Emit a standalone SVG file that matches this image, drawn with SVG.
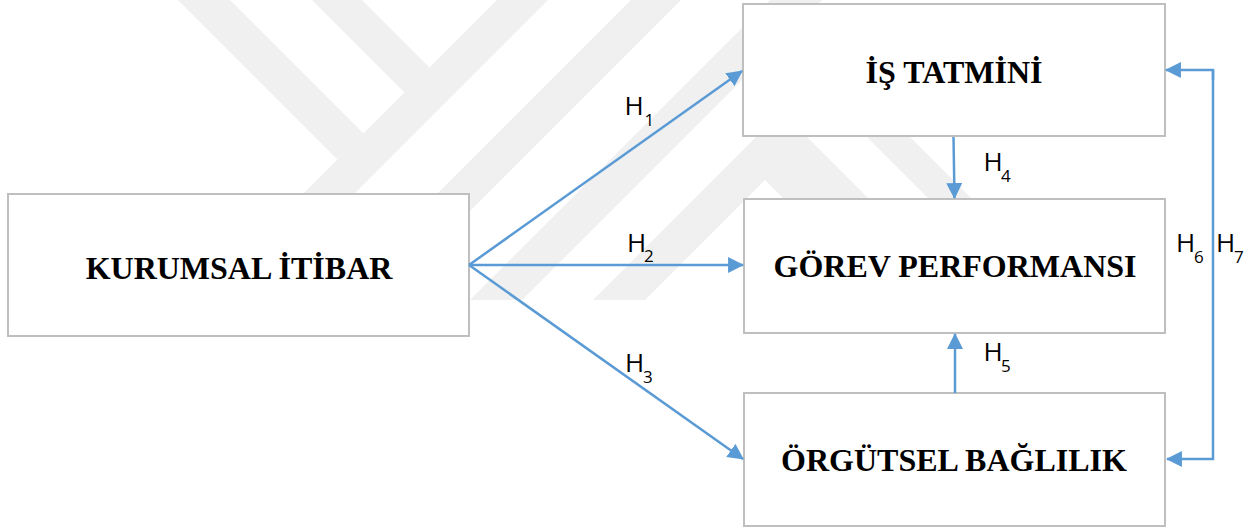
<svg xmlns="http://www.w3.org/2000/svg" width="1259" height="529" viewBox="0 0 1259 529">
  <style>
    .box { fill: #ffffff; stroke: #bfbfbf; stroke-width: 2; }
    .title { font-family: "Liberation Serif", "Times New Roman", serif; font-weight: bold; font-size: 32px; fill: #000000; text-anchor: middle; }
    .lbl { font-family: "Open Sans", "Noto Sans", sans-serif; font-size: 26px; fill: #000000; }
    .sub { font-family: "Open Sans", "Noto Sans", sans-serif; font-size: 17px; fill: #000000; }
    .conn { fill: none; stroke: #5b9bd5; stroke-width: 2.5; }
    .wm { fill: #f0f0f0; stroke: none; }
  </style>
  <defs>
    <marker id="arrow" markerUnits="userSpaceOnUse" markerWidth="16" markerHeight="16" viewBox="0 0 15 15" refX="14" refY="7.5" orient="auto">
      <path d="M0,0 L15,7.5 L0,15 Z" fill="#5b9bd5"/>
    </marker>
  </defs>
  <rect width="1259" height="529" fill="#ffffff"/>
  <g id="watermark">
    <polygon class="wm" points="178,0 230,0 363.5,133.5 337.5,159.5"/>
    <polygon class="wm" points="312,0 362,0 429.5,67.5 404.5,92.5"/>
    <polygon class="wm" points="497,0 548,0 248,300 197,300"/>
    <polygon class="wm" points="631,0 681,0 381,300 331,300"/>
    <polygon class="wm" points="770,0 822,0 522,300 470,300"/>
    <polygon class="wm" points="593,300 757,136 806,136 869,199 784,199 765,180 645,300"/>
    <polygon class="wm" points="866,136 909,136 972,199 929,199"/>
  </g>
  <g id="node-kurumsal">
    <rect class="box" x="8" y="194" width="461" height="142"/>
    <text class="title" x="239" y="278.5">KURUMSAL İTİBAR</text>
  </g>
  <g id="node-is-tatmini">
    <rect class="box" x="743" y="4" width="422" height="132"/>
    <text class="title" x="954" y="83">İŞ TATMİNİ</text>
  </g>
  <g id="node-gorev">
    <rect class="box" x="744" y="199" width="421" height="134"/>
    <text class="title" x="955" y="277">GÖREV PERFORMANSI</text>
  </g>
  <g id="node-orgutsel">
    <rect class="box" x="744" y="393" width="421" height="133"/>
    <text class="title" x="954" y="471">ÖRGÜTSEL BAĞLILIK</text>
  </g>
  <g id="connectors">
    <line class="conn" x1="469" y1="265" x2="742" y2="71" marker-end="url(#arrow)"/>
    <line class="conn" x1="469" y1="265" x2="743" y2="265" marker-end="url(#arrow)"/>
    <line class="conn" x1="469" y1="265" x2="743" y2="459" marker-end="url(#arrow)"/>
    <line class="conn" x1="953.5" y1="137" x2="954.5" y2="198" marker-end="url(#arrow)"/>
    <line class="conn" x1="955" y1="393" x2="955" y2="334" marker-end="url(#arrow)"/>
    <polyline class="conn" points="1213,70 1213,459 1167,459" marker-end="url(#arrow)"/>
    <polyline class="conn" points="1213,80 1213,70 1166,70" marker-end="url(#arrow)"/>
  </g>
  <g id="labels">
    <text class="lbl" x="624.5" y="115">H</text><text class="sub" x="644.5" y="126">1</text>
    <text class="lbl" x="627" y="252">H</text><text class="sub" x="644" y="262">2</text>
    <text class="lbl" x="625" y="371.5">H</text><text class="sub" x="643" y="383">3</text>
    <text class="lbl" x="983.5" y="170.5">H</text><text class="sub" x="1001" y="181.5">4</text>
    <text class="lbl" x="983.5" y="360.5">H</text><text class="sub" x="1001" y="372">5</text>
    <text class="lbl" x="1176" y="251.5">H</text><text class="sub" x="1194" y="262.5">6</text>
    <text class="lbl" x="1216" y="251.5">H</text><text class="sub" x="1234" y="262.5">7</text>
  </g>
</svg>
